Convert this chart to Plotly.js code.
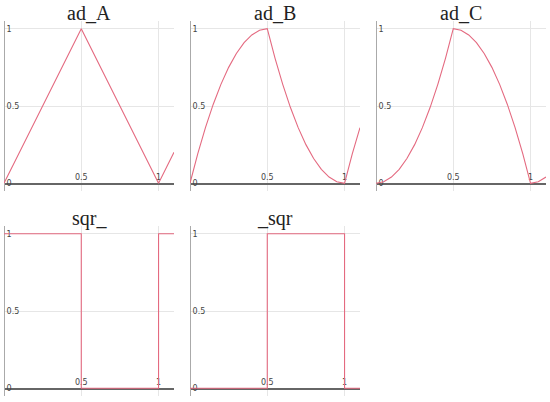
<!DOCTYPE html>
<html>
<head>
<meta charset="utf-8">
<script src="https://cdn.plot.ly/plotly-3.0.1.min.js"></script>
<style>html,body{margin:0;padding:0;background:#fff}#chart{width:550px;height:402px}</style>
</head>
<body>
<div id="chart"></div>
<script>
// Subplot titles
const titles = ["ad_A", "ad_B", "ad_C", "sqr_", "_sqr"];

// ad_A: triangle wave vertices
const adA_x = [0, 0.5, 1, 1.1];
const adA_y = [0, 1, 0, 0.2];

// ad_B and ad_C sampled curves
const curve_x = [0, 0.05, 0.1, 0.15, 0.2, 0.25, 0.3, 0.35, 0.4, 0.45, 0.5,
                 0.55, 0.6, 0.65, 0.7, 0.75, 0.8, 0.85, 0.9, 0.95, 1, 1.05, 1.1];
const adB_y = [0, 0.19, 0.36, 0.51, 0.64, 0.75, 0.84, 0.91, 0.96, 0.99, 1,
               0.81, 0.64, 0.49, 0.36, 0.25, 0.16, 0.09, 0.04, 0.01, 0, 0.19, 0.36];
const adC_y = [0, 0.01, 0.04, 0.09, 0.16, 0.25, 0.36, 0.49, 0.64, 0.81, 1,
               0.99, 0.96, 0.91, 0.84, 0.75, 0.64, 0.51, 0.36, 0.19, 0, 0.01, 0.04];

// square waves
const sqr1_x = [0, 0.5, 0.5, 1, 1, 1.1];
const sqr1_y = [1, 1, 0, 0, 1, 1];
const sqr2_x = [0, 0.5, 0.5, 1, 1, 1.1];
const sqr2_y = [0, 0, 1, 1, 0, 0];

// ticks
const xTickVals = [0.5, 1];
const xTickText = ["0.5", "1"];
const yTickVals = [0, 0.5, 1];
const yTickText = ["0", "0.5", "1"];

const lineColor = "#e46a80";
const series = [
  [adA_x, adA_y], [curve_x, adB_y], [curve_x, adC_y], [sqr1_x, sqr1_y], [sqr2_x, sqr2_y]
];

const W = 550, H = 402;
const colPx = [[4, 174], [190, 360], [376, 546]];
const rowPx = [[21, 191], [226, 396]];
const yRange = [-0.05, 1.05];

const data = [];
const layout = {
  width: W, height: H,
  margin: {l: 0, r: 0, t: 0, b: 0},
  paper_bgcolor: "#fff", plot_bgcolor: "#fff",
  showlegend: false,
  annotations: []
};

series.forEach((s, i) => {
  const r = Math.floor(i / 3), c = i % 3;
  const n = i + 1;
  const xa = "x" + (n === 1 ? "" : n), ya = "y" + (n === 1 ? "" : n);
  const xd = [colPx[c][0] / W, colPx[c][1] / W];
  const yd = [1 - rowPx[r][1] / H, 1 - rowPx[r][0] / H];
  const xkey = "xaxis" + (n === 1 ? "" : n), ykey = "yaxis" + (n === 1 ? "" : n);
  // x axis drawn at the y=0 level of its subplot, labels above it
  const zeroPos = yd[0] + (0 - yRange[0]) / (yRange[1] - yRange[0]) * (yd[1] - yd[0]);
  layout[xkey] = {
    domain: xd, anchor: "free", position: zeroPos, side: "top", range: [0, 1.1],
    tickvals: xTickVals, ticktext: xTickText,
    ticks: "", ticklen: 0,
    tickfont: {size: 8, color: "#444", family: "DejaVu Sans"},
    showgrid: true, gridcolor: "#e6e6e6", gridwidth: 1,
    zeroline: false, showline: true, linecolor: "#666", linewidth: 1.3,
    layer: "below traces", fixedrange: true
  };
  // y axis at the left edge, labels to its right (inside the plot)
  layout[ykey] = {
    domain: yd, anchor: "free", position: xd[0], side: "right", range: yRange,
    tickvals: yTickVals, ticktext: yTickText,
    ticks: "", ticklen: 0,
    tickfont: {size: 8, color: "#444", family: "DejaVu Sans"},
    showgrid: true, gridcolor: "#e6e6e6", gridwidth: 1,
    zeroline: false,
    showline: true, linecolor: "#aaa", linewidth: 1,
    layer: "below traces", fixedrange: true
  };
  data.push({
    x: s[0], y: s[1], type: "scatter", mode: "lines",
    line: {color: lineColor, width: 1.1},
    xaxis: xa, yaxis: ya, hoverinfo: "skip", cliponaxis: false
  });
  layout.annotations.push({
    text: titles[i], xref: "paper", yref: "paper",
    x: (xd[0] + xd[1]) / 2, y: 1 - (rowPx[r][0] - 8) / H,
    xanchor: "center", yanchor: "middle", showarrow: false,
    font: {family: "Liberation Serif", size: 20, color: "#222"}
  });
});

Plotly.newPlot("chart", data, layout, {staticPlot: true, displayModeBar: false});
</script>
</body>
</html>
